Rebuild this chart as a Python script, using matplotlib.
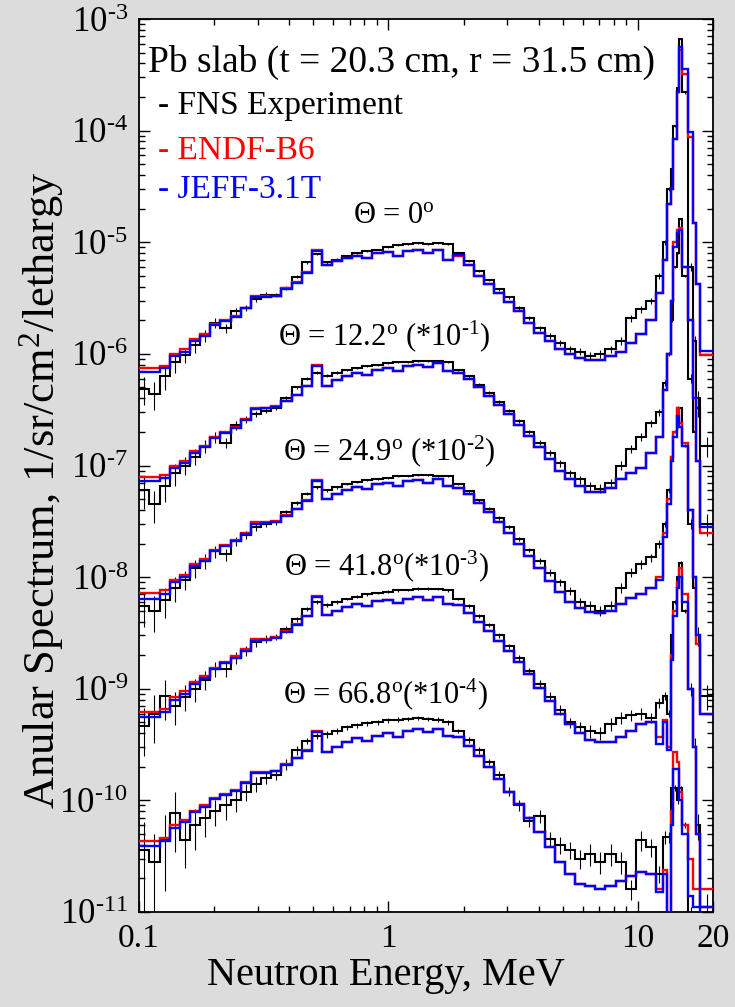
import numpy as np
import matplotlib.pyplot as plt
from matplotlib.ticker import FixedLocator, LogLocator, NullFormatter, FuncFormatter

plt.rcParams['font.family'] = ['Liberation Serif', 'DejaVu Serif']
plt.rcParams['mathtext.fontset'] = 'custom'
plt.rcParams['mathtext.rm'] = 'Liberation Serif'
plt.rcParams['mathtext.it'] = 'Liberation Serif:italic'
plt.rcParams['mathtext.bf'] = 'Liberation Serif:bold'

# energy bin edges (MeV)
e_edges = [0.100, 0.110, 0.121, 0.133, 0.146, 0.160, 0.176, 0.193, 0.212, 0.233,
           0.256, 0.281, 0.309, 0.339, 0.372, 0.409, 0.449, 0.493, 0.541, 0.594,
           0.652, 0.716, 0.786, 0.863, 0.948, 1.04, 1.14, 1.25, 1.38, 1.51,
           1.66, 1.82, 2.00, 2.20, 2.41, 2.65, 2.91, 3.19, 3.51, 3.85,
           4.23, 4.64, 5.10, 5.60, 6.15, 6.75, 7.41, 8.14, 8.94, 9.81,
           10.8, 11.8, 12.6, 13.1, 13.6, 13.85, 14.35, 14.65, 15.05, 15.9,
           16.65, 17.1, 17.75, 20.0]

UNIT = 1e-6   # values below are in 1e-6 1/sr/cm2/lethargy (before angle scaling)

# theta = 0
exp_00 = [0.48, 0.44, 0.63, 0.85, 0.98, 1.20, 1.45, 1.90, 1.70, 2.40,
          2.60, 3.10, 3.40, 3.40, 3.90, 4.90, 6.60, 7.80, 6.60, 7.00,
          7.60, 8.00, 8.30, 8.60, 9.00, 9.40, 9.60, 9.90, 9.60, 9.80,
          9.70, 8.00, 6.80, 5.50, 4.60, 3.80, 3.20, 2.60, 2.10, 1.70,
          1.45, 1.25, 1.10, 1.05, 0.96, 1.00, 1.10, 1.30, 2.10, 2.50,
          3.00, 5.00, 10.0, 30.0, 45.0, 110., 240., 660., 220., 6.0,
          1.3, 0.4, 0.15]
endf_00 = [0.75, 0.75, 0.78, 1.00, 1.10, 1.35, 1.50, 1.85, 2.00, 2.20,
           2.60, 3.30, 3.30, 3.30, 3.90, 4.40, 5.40, 8.50, 6.30, 6.80,
           7.20, 7.60, 7.30, 8.00, 8.20, 7.60, 8.40, 8.50, 8.00, 8.60,
           7.00, 7.60, 6.20, 5.00, 4.20, 3.50, 2.90, 2.40, 1.90, 1.55,
           1.30, 1.10, 1.00, 0.92, 0.88, 0.89, 0.95, 1.05, 1.25, 1.50,
           2.00, 3.50, 7.00, 22.0, 30.0, 85.0, 220., 530., 320., 88.0,
           15.0, 4.2, 0.97]
jeff_00 = [0.69, 0.69, 0.74, 0.95, 1.05, 1.30, 1.45, 1.80, 1.95, 2.15,
           2.55, 3.20, 3.25, 3.30, 3.85, 4.35, 5.35, 8.40, 6.30, 6.80,
           7.20, 7.60, 7.30, 8.00, 8.20, 7.60, 8.40, 8.50, 8.00, 8.60,
           6.90, 7.70, 6.20, 5.00, 4.20, 3.50, 2.90, 2.40, 1.90, 1.55,
           1.30, 1.10, 1.00, 0.92, 0.88, 0.89, 0.95, 1.05, 1.25, 1.50,
           2.00, 3.50, 7.00, 22.0, 30.0, 85.0, 220., 560., 360., 98.0,
           15.0, 4.2, 1.07]

# theta = 12.2
exp_12 = [0.60, 0.45, 0.65, 0.85, 1.00, 1.20, 1.50, 1.80, 1.60, 2.30,
          2.60, 2.90, 3.10, 3.30, 4.00, 5.00, 6.00, 6.80, 6.40, 6.80,
          7.20, 7.40, 7.80, 8.00, 8.20, 8.40, 8.50, 8.60, 8.70, 8.60,
          8.50, 7.20, 6.30, 5.30, 4.50, 3.70, 3.10, 2.50, 2.00, 1.60,
          1.30, 1.05, 0.85, 0.75, 0.65, 0.62, 0.70, 1.00, 1.40, 1.80,
          2.40, 3.00, 5.50, 10.0, 20.0, 60.0, 80.0, 160., 50.0, 6.0,
          2.0, 3.3, 0.3]
endf_12 = [0.79, 0.79, 0.82, 1.00, 1.10, 1.35, 1.50, 1.80, 2.00, 2.20,
           2.60, 3.30, 3.30, 3.40, 3.80, 4.30, 5.20, 7.90, 5.20, 5.80,
           6.40, 6.80, 6.50, 7.20, 7.50, 7.00, 7.80, 8.00, 7.60, 8.20,
           7.00, 6.80, 6.00, 5.00, 4.20, 3.50, 2.90, 2.30, 1.85, 1.45,
           1.15, 0.90, 0.75, 0.65, 0.58, 0.58, 0.63, 0.75, 0.85, 0.95,
           1.30, 1.80, 4.70, 10.0, 30.0, 100., 130., 135., 60.0, 20.0,
           4.0, 1.1, 0.25]
jeff_12 = [0.72, 0.72, 0.77, 0.95, 1.05, 1.30, 1.45, 1.75, 1.95, 2.15,
           2.55, 3.20, 3.25, 3.35, 3.75, 4.25, 5.15, 7.80, 5.20, 5.80,
           6.40, 6.80, 6.50, 7.20, 7.50, 7.00, 7.80, 8.00, 7.60, 8.20,
           7.00, 6.80, 6.00, 5.00, 4.20, 3.50, 2.90, 2.30, 1.85, 1.45,
           1.15, 0.90, 0.75, 0.65, 0.58, 0.58, 0.63, 0.75, 0.85, 0.95,
           1.30, 1.80, 4.70, 10.0, 30.0, 90.0, 120., 130., 60.0, 20.0,
           4.0, 1.1, 0.28]

# theta = 24.9
exp_25 = [0.55, 0.50, 0.62, 0.80, 0.95, 1.20, 1.40, 1.70, 1.60, 2.10,
          2.40, 2.80, 3.00, 3.10, 3.80, 4.60, 5.60, 6.40, 6.00, 6.40,
          6.80, 7.10, 7.40, 7.60, 7.80, 8.00, 8.10, 8.20, 8.20, 8.10,
          8.00, 6.80, 5.90, 4.90, 4.10, 3.40, 2.80, 2.20, 1.75, 1.40,
          1.10, 0.90, 0.75, 0.60, 0.55, 0.50, 0.55, 0.80, 1.10, 1.30,
          1.50, 2.00, 3.00, 6.00, 12.0, 20.0, 33.0, 33.0, 15.0, 3.0,
          0.8, 0.3, 0.086]
endf_25 = [0.72, 0.72, 0.76, 0.95, 1.05, 1.30, 1.45, 1.75, 1.95, 2.15,
           2.50, 3.10, 3.10, 3.20, 3.60, 4.10, 4.90, 7.40, 5.00, 5.50,
           6.00, 6.40, 6.10, 6.80, 7.00, 6.60, 7.20, 7.40, 7.00, 7.50,
           6.60, 6.30, 5.50, 4.60, 3.80, 3.10, 2.50, 2.00, 1.55, 1.20,
           0.93, 0.73, 0.60, 0.53, 0.49, 0.48, 0.50, 0.58, 0.65, 0.70,
           0.80, 1.00, 2.50, 5.00, 12.0, 20.0, 33.0, 24.0, 16.0, 4.0,
           1.0, 0.25, 0.06]
jeff_25 = [0.64, 0.64, 0.70, 0.90, 1.00, 1.25, 1.40, 1.70, 1.90, 2.10,
           2.45, 3.00, 3.05, 3.15, 3.55, 4.05, 4.85, 7.30, 5.00, 5.50,
           6.00, 6.40, 6.10, 6.80, 7.00, 6.60, 7.20, 7.40, 7.00, 7.50,
           6.60, 6.30, 5.50, 4.60, 3.80, 3.10, 2.50, 2.00, 1.55, 1.20,
           0.93, 0.73, 0.60, 0.53, 0.49, 0.48, 0.50, 0.58, 0.65, 0.70,
           0.80, 0.95, 2.30, 4.50, 11.0, 18.0, 28.0, 22.0, 15.0, 4.0,
           1.0, 0.30, 0.06]

# theta = 41.8
exp_42 = [0.46, 0.60, 0.86, 0.70, 0.85, 1.00, 1.20, 1.50, 1.50, 1.90,
          2.20, 2.60, 2.80, 2.90, 3.40, 4.20, 5.20, 6.00, 5.60, 6.00,
          6.40, 6.70, 7.00, 7.20, 7.40, 7.60, 7.70, 7.90, 7.90, 7.80,
          7.60, 6.40, 5.50, 4.50, 3.70, 3.00, 2.40, 1.90, 1.45, 1.10,
          0.85, 0.65, 0.50, 0.45, 0.42, 0.40, 0.48, 0.55, 0.58, 0.60,
          0.55, 0.75, 0.86, 0.60, 3.0, 6.0, 10.0, 13.5, 5.0, 1.0,
          0.3, 0.06, 0.011]
endf_42 = [0.62, 0.62, 0.66, 0.85, 0.95, 1.15, 1.30, 1.55, 1.75, 1.95,
           2.25, 2.80, 2.80, 2.90, 3.30, 3.80, 4.50, 6.80, 4.60, 5.00,
           5.40, 5.80, 5.50, 6.10, 6.30, 5.90, 6.40, 6.60, 6.20, 6.60,
           5.80, 5.60, 4.80, 4.00, 3.30, 2.70, 2.20, 1.75, 1.35, 1.02,
           0.78, 0.60, 0.48, 0.40, 0.35, 0.33, 0.33, 0.37, 0.42, 0.48,
           0.50, 0.37, 0.53, 0.30, 2.0, 5.0, 9.0, 12.0, 7.0, 1.0,
           0.3, 0.05, 0.011]
jeff_42 = [0.56, 0.56, 0.62, 0.80, 0.90, 1.10, 1.25, 1.50, 1.70, 1.90,
           2.20, 2.70, 2.75, 2.85, 3.25, 3.75, 4.45, 6.70, 4.60, 5.00,
           5.40, 5.80, 5.50, 6.10, 6.30, 5.90, 6.40, 6.60, 6.20, 6.60,
           5.80, 5.60, 4.80, 4.00, 3.30, 2.70, 2.20, 1.75, 1.35, 1.02,
           0.78, 0.60, 0.48, 0.40, 0.35, 0.33, 0.33, 0.37, 0.42, 0.48,
           0.50, 0.32, 0.50, 0.28, 1.8, 4.5, 8.0, 10.0, 6.0, 1.0,
           0.3, 0.05, 0.006]

# theta = 66.8
exp_67 = [0.36, 0.28, 0.45, 0.77, 0.44, 0.60, 0.70, 0.80, 0.90, 1.00,
          1.20, 1.40, 1.60, 1.70, 2.10, 2.80, 3.40, 3.80, 3.90, 4.20,
          4.50, 4.70, 4.90, 5.00, 5.20, 5.30, 5.40, 5.50, 5.40, 5.30,
          5.00, 4.20, 3.50, 2.80, 2.20, 1.70, 1.20, 0.90, 0.65, 0.72,
          0.45, 0.40, 0.36, 0.30, 0.33, 0.28, 0.33, 0.28, 0.16, 0.44,
          0.38, 0.22, 0.47, 0.47, 1.3, 1.3, 1.0, 1.3, 0.6, 0.09,
          0.03, 0.01, 0.005]
endf_67 = [0.43, 0.43, 0.46, 0.60, 0.67, 0.80, 0.90, 1.05, 1.15, 1.25,
           1.45, 1.80, 1.80, 1.85, 2.10, 2.40, 2.80, 4.20, 2.70, 3.00,
           3.30, 3.60, 3.40, 3.80, 4.00, 3.70, 4.20, 4.40, 4.10, 4.40,
           3.80, 3.70, 3.10, 2.50, 2.00, 1.55, 1.20, 0.92, 0.70, 0.52,
           0.38, 0.28, 0.22, 0.18, 0.17, 0.16, 0.17, 0.19, 0.21, 0.23,
           0.22, 0.16, 0.24, 0.05, 0.8, 2.7, 2.2, 1.2, 0.6, 0.3,
           0.16, 0.16, 0.16]
jeff_67 = [0.39, 0.39, 0.43, 0.57, 0.64, 0.78, 0.88, 1.02, 1.12, 1.22,
           1.42, 1.75, 1.77, 1.82, 2.08, 2.38, 2.78, 4.10, 2.70, 3.00,
           3.30, 3.60, 3.40, 3.80, 4.00, 3.70, 4.20, 4.40, 4.10, 4.40,
           3.80, 3.70, 3.10, 2.50, 2.00, 1.55, 1.20, 0.92, 0.70, 0.52,
           0.38, 0.28, 0.22, 0.18, 0.17, 0.16, 0.17, 0.19, 0.21, 0.23,
           0.22, 0.15, 0.22, 0.04, 0.6, 1.9, 1.9, 1.0, 0.5, 0.14,
           0.11, 0.11, 0.11]

# relative uncertainty of the measurement, and a multiplier per angle
err_rel = [0.35, 0.35, 0.30, 0.25, 0.20, 0.18, 0.15, 0.12, 0.12, 0.10,
           0.08, 0.07, 0.06, 0.05, 0.05, 0.04, 0.03, 0.03, 0.03, 0.03,
           0.02, 0.02, 0.02, 0.02, 0.02, 0.02, 0.02, 0.02, 0.02, 0.02,
           0.02, 0.02, 0.03, 0.03, 0.03, 0.04, 0.04, 0.05, 0.05, 0.06,
           0.07, 0.08, 0.08, 0.09, 0.10, 0.10, 0.10, 0.10, 0.09, 0.09,
           0.08, 0.08, 0.06, 0.05, 0.04, 0.03, 0.03, 0.02, 0.03, 0.10,
           0.15, 0.20, 0.25]
err_mult = [0.8, 0.9, 1.0, 1.3, 2.2]

scales = [1.0, 1e-1, 1e-2, 1e-3, 1e-4]
angle_labels = ['Θ = 0$^{\\rm o}$',
                'Θ = 12.2$^{\\rm o}$ (*10$^{\\text{-}1}$)',
                'Θ = 24.9$^{\\rm o}$ (*10$^{\\text{-}2}$)',
                'Θ = 41.8$^{\\rm o}$(*10$^{\\text{-}3}$)',
                'Θ = 66.8$^{\\rm o}$(*10$^{\\text{-}4}$)']
exp_all = [exp_00, exp_12, exp_25, exp_42, exp_67]
endf_all = [endf_00, endf_12, endf_25, endf_42, endf_67]
jeff_all = [jeff_00, jeff_12, jeff_25, jeff_42, jeff_67]

W, H = 735, 1007
fig = plt.figure(figsize=(W / 100, H / 100), dpi=100, facecolor='#dcdcdc')
ax = fig.add_axes([139 / W, 1 - 912 / H, 574 / W, 893 / H])
ax.set_facecolor('white')

edges = np.array(e_edges)
centers = np.sqrt(edges[:-1] * edges[1:])

for i in range(5):
    f = UNIT * scales[i]
    ye = np.array(exp_all[i]) * f
    yerr = ye * np.array(err_rel) * err_mult[i]
    ax.stairs(ye, edges, baseline=None, color='black', lw=1.5, zorder=2)
    ax.errorbar(centers, ye, yerr=yerr, fmt='none', ecolor='black', elinewidth=0.8, zorder=2)
    ax.stairs(np.array(endf_all[i]) * f, edges, baseline=None, color='#ff0000', lw=1.7, zorder=3)
    ax.stairs(np.array(jeff_all[i]) * f, edges, baseline=None, color='#0000ff', lw=1.7, zorder=4)

ax.set_xscale('log')
ax.set_yscale('log')
ax.set_xlim(0.1, 20)
ax.set_ylim(1e-11, 1e-3)

ax.xaxis.set_major_locator(FixedLocator([0.1, 1, 10, 20]))
ax.xaxis.set_major_formatter(FuncFormatter(lambda v, p: '%g' % v))
ax.xaxis.set_minor_locator(LogLocator(base=10, subs=np.arange(2, 10)))
ax.xaxis.set_minor_formatter(NullFormatter())
ax.yaxis.set_major_locator(LogLocator(base=10, numticks=20))
ax.yaxis.set_major_formatter(FuncFormatter(
    lambda v, p: '$10^{\\text{-%d}}$' % round(-np.log10(v))))
ax.yaxis.set_minor_locator(LogLocator(base=10, subs=np.arange(2, 10), numticks=20))
ax.yaxis.set_minor_formatter(NullFormatter())

ax.tick_params(which='both', direction='in', top=True, right=True, width=1.0)
ax.tick_params(axis='x', labelsize=24)
ax.tick_params(axis='y', labelsize=25)
ax.tick_params(which='major', length=8, pad=8)
ax.tick_params(which='minor', length=4.5)
for s in ax.spines.values():
    s.set_linewidth(1.3)

fig.text(42 / W, 1 - 490 / H, 'Anular Spectrum, 1/sr/cm$^2$/lethargy', fontsize=32,
         rotation=90, ha='center', va='center')
fig.text(386 / W, 1 - 976 / H, 'Neutron Energy, MeV', fontsize=29, ha='center', va='center')

def px(x, y):
    return ((x - 139) / 574, (912 - y) / 893)

ax.text(*px(148, 62), 'Pb slab (t = 20.3 cm, r = 31.5 cm)', transform=ax.transAxes,
        fontsize=27, ha='left', va='center')
ax.text(*px(158, 106), '- FNS Experiment', transform=ax.transAxes, fontsize=24,
        color='black', ha='left', va='center')
ax.text(*px(158, 151), '- ENDF-B6', transform=ax.transAxes, fontsize=24,
        color='#ff0000', ha='left', va='center')
ax.text(*px(158, 190), '- JEFF-3.1T', transform=ax.transAxes, fontsize=24,
        color='#0000ff', ha='left', va='center')

label_pos = [(353, 223), (278, 345), (283, 460), (284, 575), (283, 703)]
for lab, (x, y) in zip(angle_labels, label_pos):
    ax.text(*px(x, y), lab, transform=ax.transAxes, fontsize=22, ha='left', va='baseline')

fig.savefig('out.png', dpi=100, facecolor=fig.get_facecolor())
